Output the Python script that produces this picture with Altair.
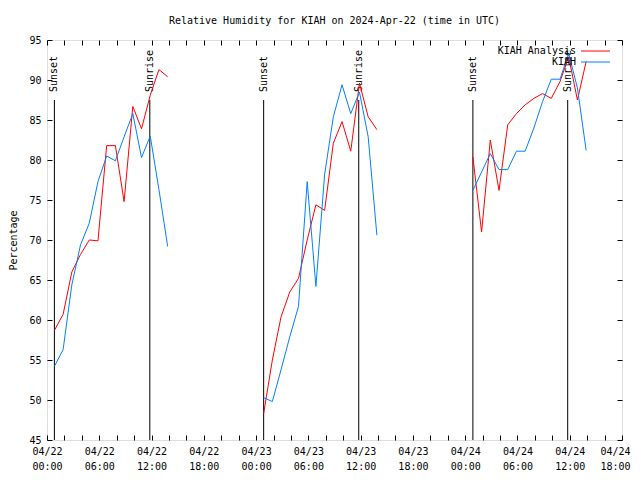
import altair as alt
import pandas as pd
from datetime import datetime, timedelta, timezone

# ---------------- data ----------------
series_names = ["KIAH Analysis", "KIAH"]
series_colors = ["#ff0000", "#0080ff"]

segment_starts = ["2024-04-22T00:51:00", "2024-04-23T00:52:00", "2024-04-24T00:53:00"]

analysis_seg1 = [58.7, 60.7, 66.0, 68.2, 70.0, 69.9, 81.8, 81.8, 74.8, 86.7, 83.9, 88.1, 91.3, 90.4]
analysis_seg2 = [48.3, 55.0, 60.4, 63.5, 65.2, 70.0, 74.4, 73.7, 82.1, 84.8, 81.1, 89.6, 85.4, 83.8]
analysis_seg3 = [80.4, 71.0, 82.5, 76.2, 84.4, 85.8, 86.9, 87.7, 88.3, 87.7, 89.8, 92.9, 87.5, 92.3]

kiah_seg1 = [54.2, 56.3, 64.4, 69.4, 72.1, 77.3, 80.5, 79.9, 82.9, 85.8, 80.3, 83.0, 76.3, 69.2]
kiah_seg2 = [50.3, 49.8, 53.8, 57.9, 61.7, 77.3, 64.2, 78.2, 85.4, 89.4, 85.8, 88.5, 82.9, 70.6]
kiah_seg3 = [76.2, 78.5, 80.8, 78.8, 78.8, 81.1, 81.1, 84.0, 87.3, 90.1, 90.1, 93.3, 89.0, 81.2]

sun_times = ["2024-04-22T00:51:00", "2024-04-22T11:48:00",
             "2024-04-23T00:52:00", "2024-04-23T11:47:00",
             "2024-04-24T00:53:00", "2024-04-24T11:46:00"]
sun_labels = ["Sunset", "Sunrise", "Sunset", "Sunrise", "Sunset", "Sunrise"]

x_start = "2024-04-22T00:00:00"
x_end = "2024-04-24T18:00:00"
y_min, y_max, y_step = 45, 95, 5
x_tick_hours = 2
title_text = "Relative Humidity for KIAH on 2024-Apr-22 (time in UTC)"
y_title = "Percentage"

# ---------------- tables ----------------
def iso(dt):
    return dt.strftime("%Y-%m-%dT%H:%M:%SZ")

rows = []
for name, segs in [(series_names[0], [analysis_seg1, analysis_seg2, analysis_seg3]),
                   (series_names[1], [kiah_seg1, kiah_seg2, kiah_seg3])]:
    for si, (start, vals) in enumerate(zip(segment_starts, segs)):
        t0 = datetime.fromisoformat(start)
        for i, v in enumerate(vals):
            rows.append({"series": name, "segment": si,
                         "time": iso(t0 + timedelta(hours=i)), "value": v})
df = pd.DataFrame(rows)

sun_df = pd.DataFrame({"time": [s + "Z" for s in sun_times], "label": sun_labels,
                       "y0": [y_min] * 6, "y1": [87.5] * 6, "ylab": [88.5] * 6})

def ms(s):
    return int(datetime.fromisoformat(s).replace(tzinfo=timezone.utc).timestamp() * 1000)

T0, T1 = ms(x_start), ms(x_end)
x_vals = list(range(T0, T1 + 1, x_tick_hours * 3600 * 1000))
y_vals = list(range(y_min, y_max + 1, y_step))

FONT = "DejaVu Sans Mono"
FS = 10

x_scale = alt.Scale(type="utc", domain=[T0, T1], nice=False)
y_scale = alt.Scale(domain=[y_min, y_max], nice=False, zero=False)
color_scale = alt.Scale(domain=series_names, range=series_colors)

label_expr = ("utchours(datum.value) % 6 == 0 ? "
              "[utcFormat(datum.value, '%m/%d'), utcFormat(datum.value, '%H:%M')] : ''")

axis_common = dict(domain=False, grid=False, tickSize=5, offset=-5, tickColor="black",
                   labelFont=FONT, labelFontSize=FS, labelColor="black",
                   titleFont=FONT, titleFontSize=FS, titleColor="black", titleFontWeight="normal")

x_bottom = alt.Axis(orient="bottom", values=x_vals, labelExpr=label_expr, labelOverlap=False,
                    labelFlush=False, labelPadding=6, labelLineHeight=15, labelAngle=0,
                    labelOffset={"expr": f"datum.value >= {T1} ? -7 : 0"},
                    title=None, **axis_common)
y_left = alt.Axis(orient="left", values=y_vals, labelPadding=6, title=y_title,
                  titlePadding=10, labelOverlap=False, **axis_common)
x_top = alt.Axis(orient="top", values=x_vals, labels=False, title=None, **axis_common)
y_right = alt.Axis(orient="right", values=y_vals, labels=False, title=None, **axis_common)

legend = alt.Legend(title=None, orient="none", legendX=543, legendY=5.5,
                    symbolType="M-2.9,0H2.9", symbolSize=100, symbolStrokeWidth=1,
                    labelAlign="right", labelOffset={"expr": "-25"},
                    labelFont=FONT, labelFontSize=FS, labelColor="black",
                    padding=0, rowPadding=0)

red = alt.Chart(df).transform_filter(alt.datum.series == series_names[0]).mark_line(
    strokeWidth=1).encode(
    x=alt.X("time:T", scale=x_scale, axis=x_bottom),
    y=alt.Y("value:Q", scale=y_scale, axis=y_left),
    color=alt.Color("series:N", scale=color_scale, legend=legend),
    detail="segment:N",
)

blue = alt.Chart(df).transform_filter(alt.datum.series == series_names[1]).mark_line(
    strokeWidth=1).encode(
    x=alt.X("time:T", scale=x_scale, axis=x_top),
    y=alt.Y("value:Q", scale=y_scale, axis=y_right),
    color=alt.Color("series:N", scale=color_scale, legend=legend),
    detail="segment:N",
)

rules = alt.Chart(sun_df).mark_rule(color="black", strokeWidth=1).encode(
    x=alt.X("time:T", scale=x_scale, axis=None),
    y=alt.Y("y0:Q", scale=y_scale, axis=None),
    y2="y1:Q",
)

labels = alt.Chart(sun_df).mark_text(angle=270, align="left", baseline="middle",
                                     font=FONT, fontSize=FS, color="black").encode(
    x=alt.X("time:T", scale=x_scale, axis=None),
    y=alt.Y("ylab:Q", scale=y_scale, axis=None),
    text="label:N",
)

chart = alt.layer(rules, labels, red, blue).resolve_axis(
    x="independent", y="independent"
).properties(
    width=575, height=400,
    autosize=alt.AutoSizeParams(type="none"),
    padding={"left": 39, "top": 32, "right": 10, "bottom": 32},
    title=alt.TitleParams(title_text, font=FONT, fontSize=FS, fontWeight="normal",
                          color="black", anchor="middle", offset=9),
).configure_view(
    stroke="black", strokeWidth=1
).configure(background="white")

chart.save("out.html", embed_options={"renderer": "svg", "actions": False})
